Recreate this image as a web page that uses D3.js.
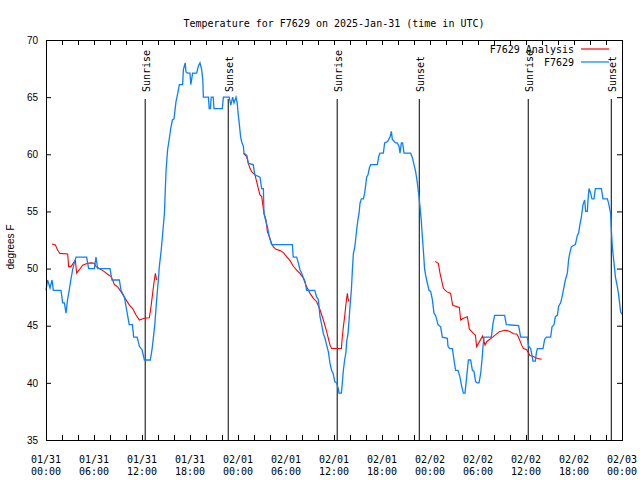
<!DOCTYPE html>
<html>
<head>
<meta charset="utf-8">
<script src="https://cdn.jsdelivr.net/npm/d3@7"></script>
<style>
    body { margin: 0; background: #fff; }
    svg { display: block; }
    .mono { font-family: "DejaVu Sans Mono", "Liberation Mono", monospace; font-size: 10px; }
    .sans { font-family: "Liberation Sans", Arial, sans-serif; font-size: 10px; }
</style>
</head>
<body>
<svg id="chart" width="640" height="480"></svg>
<script>
// hours since 2025-01-31 00:00 UTC
const stationHours = [
    0, 0.2, 0.5, 0.75, 0.92, 1.875, 2.08, 2.3, 2.5, 2.7, 2.9, 3.1, 3.33, 3.54, 3.75, 5.08, 5.33, 6.04, 6.25, 6.46,
    8.0, 8.25, 9.17, 9.375, 9.8, 10.2, 10.4, 10.8, 10.96, 11.4, 11.67, 12.0, 12.3, 13.04, 13.25, 13.4, 13.6, 13.8,
    14.04, 14.17, 14.4, 14.6, 14.8, 15.0, 15.2, 15.4, 15.6, 15.8, 16.0, 16.25, 16.46, 16.67, 17.08, 17.17, 17.4,
    17.5, 17.7, 18.0, 18.1, 18.33, 18.83, 19.04, 19.25, 19.46, 19.6, 19.67, 20.3, 20.4, 20.55, 20.65, 20.9, 21.0,
    22.04, 22.17, 22.9, 23.1, 23.33, 23.5, 23.75, 23.9, 24.04, 24.17, 24.33, 24.46, 24.67, 24.75, 25.1, 25.3,
    25.9, 26.1, 26.75, 26.96, 27.17, 27.25, 27.5, 27.67, 27.9, 28.2, 30.8, 30.9, 31.33, 31.54, 31.75, 31.96,
    32.17, 32.375, 32.58, 33.6, 33.83, 34.04, 34.25, 34.46, 34.67, 34.875, 35.08, 35.3, 35.5, 35.7, 35.9, 36.1,
    36.33, 36.54, 36.625, 36.92, 37.04, 37.17, 37.33, 37.5, 37.58, 37.75, 37.875, 38.0, 38.17, 38.3, 38.42,
    38.58, 38.7, 38.83, 39.0, 39.125, 39.25, 39.42, 39.67, 39.83, 39.96, 40.08, 40.25, 40.42, 40.58, 41.42,
    41.58, 41.75, 42.17, 42.33, 42.67, 43.0, 43.17, 43.29, 43.7, 43.9, 44.125, 44.25, 44.42, 44.58, 44.75,
    45.58, 45.8, 46.0, 46.2, 46.42, 46.625, 46.75, 46.9, 47.04, 47.17, 47.33, 47.58, 47.875, 48.08, 48.29,
    48.5, 48.7, 49.0, 49.33, 49.54, 50.17, 50.25, 50.46, 50.8, 51.0, 51.2, 51.5, 51.75, 51.96, 52.17, 52.375,
    52.58, 52.8, 53.08, 53.3, 53.5, 53.7, 53.9, 54.125, 54.33, 54.5, 54.625, 54.75, 55.67, 55.875, 56.08,
    57.33, 57.54, 59.08, 59.33, 60.17, 60.33, 60.58, 60.75, 60.875, 61.17, 61.29, 61.42, 62.125, 62.33, 62.54,
    63.08, 63.25, 63.5, 63.67, 63.92, 64.08, 64.33, 64.5, 64.75, 64.92, 65.17, 65.33, 65.46, 65.67, 65.875,
    66.17, 66.42, 66.58, 66.7, 66.92, 67.125, 67.33, 67.46, 67.67, 67.75, 67.875, 68.08, 68.25, 68.5, 68.67,
    69.42, 69.625, 70.17, 70.33, 70.58, 70.67, 70.8, 71.0, 71.17, 71.42, 71.58, 71.83, 72.0
];
const stationTemps = [
    48.1, 49.0, 48.3, 49.0, 48.1, 48.1, 47.0, 47.0, 46.1, 47.3, 48.1, 49.0, 49.9, 50.5, 51.0, 51.0, 50.0, 50.0, 51.0, 50.0,
    50.0, 49.0, 49.0, 48.1, 47.5, 45.9, 45.1, 45.1, 44.0, 44.0, 43.2, 42.9, 42.0, 42.0, 42.9, 43.8, 45.1, 47.0,
    49.0, 50.2, 51.6, 53.2, 54.8, 58.5, 60.4, 61.3, 62.3, 63.0, 63.1, 64.6, 65.3, 66.1, 66.1, 67.4, 68.0,
    67.2, 67.1, 67.1, 66.1, 67.1, 67.1, 67.7, 68.0, 67.4, 66.5, 65.0, 65.0, 64.0, 64.0, 65.0, 65.0, 64.0,
    64.0, 65.0, 65.0, 64.3, 65.0, 64.5, 65.0, 64.5, 63.4, 62.6, 61.5, 61.1, 60.7, 60.1, 59.9, 59.2,
    59.1, 58.2, 58.0, 57.0, 57.0, 54.8, 54.1, 53.7, 52.8, 52.1, 52.1, 51.0, 51.0, 50.5, 49.9, 49.6,
    49.2, 48.9, 48.1, 48.1, 47.5, 47.3, 45.8, 45.1, 44.3, 43.9, 43.3, 42.7, 41.7, 41.1, 40.8, 40.1,
    40.0, 39.5, 39.1, 39.1, 40.0, 41.1, 42.0, 42.7, 43.6, 44.3, 45.4, 46.7, 48.1, 49.9, 51.3,
    51.8, 52.5, 53.4, 54.3, 54.8, 55.7, 56.1, 56.1, 56.6, 57.3, 58.0, 58.2, 58.8, 59.1, 59.1,
    59.8, 60.1, 60.1, 61.0, 61.1, 61.5, 62.0, 61.3, 61.0, 61.0, 60.7, 60.1, 61.0, 61.0, 60.1,
    60.1, 59.7, 59.1, 58.5, 57.5, 56.3, 55.4, 54.3, 52.8, 51.6, 49.9, 49.0, 48.1, 48.0, 47.3,
    46.1, 45.9, 45.1, 44.9, 44.0, 43.9, 43.2, 43.0, 43.0, 42.0, 41.1, 41.1, 40.5, 39.7, 39.1, 39.1,
    40.5, 42.0, 42.0, 41.1, 41.0, 40.1, 40.0, 40.0, 40.8, 42.0, 43.2, 44.0, 44.0, 45.2, 45.9,
    45.9, 45.1, 45.0, 44.0, 44.0, 43.2, 43.0, 42.4, 41.9, 41.9, 42.6, 43.0, 43.0, 43.8, 44.0,
    44.0, 44.9, 45.1, 45.8, 45.9, 46.7, 47.0, 47.5, 48.4, 49.0, 49.6, 50.8, 51.3, 51.9, 52.0,
    52.1, 52.9, 53.1, 53.7, 54.5, 55.6, 56.0, 55.0, 55.0, 56.0, 57.0, 56.6, 56.1, 56.1, 57.0,
    57.0, 56.1, 56.1, 55.7, 54.8, 53.4, 51.8, 50.5, 49.3, 48.4, 47.7, 46.2, 46.0
];

// analysis series, null marks a gap
const analysisHours = [
    0.75, 1.17, 1.46, 1.75, 2.71, 2.83, 3.125, 3.67, 3.83, 4.17, 4.58, 5.2, 5.625, 6.04, 6.25, 6.67, 7.29, 7.7,
    8.125, 8.33, 8.54, 8.96, 9.375, 9.8, 10.42, 10.83, 11.25, 11.67, 12.29, 12.92, 13.125, 13.33, 13.54, 13.67, 13.83,
    null,
    24.67, 25.08, 25.29, 25.5, 25.71, 26.125, 26.33, 26.54, 26.75, 26.96, 27.08, 27.25, 27.5, 27.67, 27.92, 28.2,
    28.42, 28.75, 29.25, 29.67, 30.08, 30.5, 30.92, 31.33, 31.75, 32.17, 32.58, 33.0, 33.42, 33.83, 34.25, 34.67,
    35.08, 35.5, 35.7, 36.92, 37.04, 37.17, 37.33, 37.46, 37.58, 37.67, 37.75, 37.875,
    null,
    48.625, 49.04, 49.25, 49.67, 50.08, 50.58, 50.83, 51.33, 51.67, 51.83, 52.17, 52.67, 52.92, 53.42, 53.67, 53.83,
    54.58, 54.875, 55.08, 55.9, 56.67, 57.375, 58.0, 58.42, 58.83, 59.04, 59.46, 59.67, 60.08, 60.5, 60.92, 61.33, 61.96
];
const analysisTemps = [
    52.15, 52.06, 51.6, 51.33, 51.27, 50.17, 50.17, 50.75, 49.6, 49.9, 50.3, 50.46, 50.5, 50.46, 50.17, 50.0, 49.73, 49.5,
    49.3, 49.0, 48.6, 48.4, 47.98, 47.5, 46.8, 46.5, 45.94, 45.5, 45.65, 45.7, 46.67, 47.83, 49.0, 49.58, 49.0,
    null,
    60.08, 59.8, 59.2, 58.77, 58.48, 58.19, 57.6, 57.0, 56.44, 56.3, 55.7, 54.83, 54.25, 53.23, 52.8, 52.2,
    51.9, 51.68, 51.57, 51.4, 51.04, 50.69, 50.2, 49.87, 49.58, 49.15, 48.4, 47.83, 47.4, 47.1, 46.4, 45.5,
    44.48, 43.3, 43.0, 43.0, 44.04, 44.9, 45.8, 46.67, 47.4, 47.83, 47.4, 47.1,
    null,
    50.63, 50.46, 49.6, 48.27, 47.98, 47.83, 46.8, 46.67, 46.6, 45.5, 45.65, 45.79, 44.7, 44.33, 44.19, 43.17,
    44.1, 43.3, 43.6, 44.04, 44.48, 44.6, 44.5, 44.3, 44.27, 44.04, 43.3, 43.0, 42.9, 42.4, 42.3, 42.15, 42.06
];

const sunHours = [12.4, 22.78, 36.4, 46.66, 60.28, 70.66];
const sunLabels = ['Sunrise', 'Sunset', 'Sunrise', 'Sunset', 'Sunrise', 'Sunset'];

const xTickHours = [0, 6, 12, 18, 24, 30, 36, 42, 48, 54, 60, 66, 72];
const xTickDays = ['01/31', '01/31', '01/31', '01/31', '02/01', '02/01', '02/01', '02/01', '02/02', '02/02', '02/02', '02/02', '02/03'];
const xTickTimes = ['00:00', '06:00', '12:00', '18:00', '00:00', '06:00', '12:00', '18:00', '00:00', '06:00', '12:00', '18:00', '00:00'];
const yTicks = [35, 40, 45, 50, 55, 60, 65, 70];

const seriesNames = ['F7629 Analysis', 'F7629'];
const seriesColors = ['#ff0000', '#0a80ff'];

const start = Date.UTC(2025, 0, 31);
const toDate = h => new Date(start + h * 3600e3);

const margin = {left: 46, right: 622, top: 40, bottom: 440};
const svg = d3.select('#chart');

const x = d3.scaleUtc().domain([toDate(0), toDate(72)]).range([margin.left, margin.right]);
const y = d3.scaleLinear().domain([35, 70]).range([margin.bottom, margin.top]);

// minor tick marks every 2 hours, all four sides
const tickHours = d3.range(0, 73, 2).map(toDate);
const tickAxis = (axis, tx, ty) => svg.append('g')
    .attr('transform', `translate(${tx},${ty})`)
    .call(axis)
    .call(g => g.select('.domain').remove())
    .call(g => g.selectAll('text').remove())
    .call(g => g.selectAll('line').attr('stroke', '#000'));

tickAxis(d3.axisBottom(x).tickValues(tickHours).tickSize(-5), 0, margin.bottom);
tickAxis(d3.axisTop(x).tickValues(tickHours).tickSize(-5), 0, margin.top);
tickAxis(d3.axisRight(y).tickValues(yTicks).tickSize(-5), margin.right, 0);

svg.append('g')
    .attr('transform', `translate(${margin.left},0)`)
    .call(d3.axisLeft(y).tickValues(yTicks).tickSize(-5).tickPadding(8))
    .call(g => g.select('.domain').remove())
    .call(g => g.selectAll('line').attr('stroke', '#000'))
    .call(g => g.selectAll('text').attr('class', 'sans').attr('font-family', null).attr('font-size', null).attr('fill', '#000'));

// x labels, two rows
const xl = svg.append('g').attr('class', 'mono');
xTickHours.forEach((h, i) => {
    const t = xl.append('text').attr('text-anchor', 'middle').attr('x', x(toDate(h)));
    t.append('tspan').attr('x', x(toDate(h))).attr('y', 463).text(xTickDays[i]);
    t.append('tspan').attr('x', x(toDate(h))).attr('y', 475).text(xTickTimes[i]);
});

// sunrise / sunset markers
sunHours.forEach((h, i) => {
    let px = x(toDate(h));
    svg.append('line')
        .attr('x1', px).attr('x2', px)
        .attr('y1', 99).attr('y2', margin.bottom)
        .attr('stroke', '#000').attr('stroke-width', 1);
    svg.append('text')
        .attr('class', 'mono')
        .attr('transform', `translate(${px + 4.5},92) rotate(-90)`)
        .text(sunLabels[i]);
});

const line = d3.line()
    .defined(d => d.t !== null)
    .x(d => x(toDate(d.h)))
    .y(d => y(d.t));

const analysis = analysisHours.map((h, i) => ({h, t: analysisTemps[i]}));
const station = stationHours.map((h, i) => ({h, t: stationTemps[i]}));

svg.append('path')
    .datum(analysis)
    .attr('fill', 'none')
    .attr('stroke', seriesColors[0])
    .attr('stroke-width', 1.1)
    .attr('d', line);

svg.append('path')
    .datum(station)
    .attr('fill', 'none')
    .attr('stroke', seriesColors[1])
    .attr('stroke-width', 1.3)
    .attr('d', line);

// frame
svg.append('rect')
    .attr('x', margin.left + 0.5).attr('y', margin.top + 0.5)
    .attr('width', margin.right - margin.left).attr('height', margin.bottom - margin.top)
    .attr('fill', 'none').attr('stroke', '#000');

// legend
seriesNames.forEach((name, i) => {
    let ly = 49 + i * 13;
    svg.append('text')
        .attr('class', 'mono')
        .attr('x', 574).attr('y', ly + 3.5)
        .attr('text-anchor', 'end')
        .text(name);
    svg.append('line')
        .attr('x1', 581).attr('x2', 609)
        .attr('y1', ly).attr('y2', ly)
        .attr('stroke', seriesColors[i]).attr('stroke-width', 1.2);
});

// title and y label
svg.append('text')
    .attr('class', 'mono')
    .attr('x', (margin.left + margin.right) / 2).attr('y', 27)
    .attr('text-anchor', 'middle')
    .text('Temperature for F7629 on 2025-Jan-31 (time in UTC)');

svg.append('text')
    .attr('class', 'sans')
    .attr('transform', `translate(14,247) rotate(-90)`)
    .attr('text-anchor', 'middle')
    .text('degrees F');
</script>
</body>
</html>
